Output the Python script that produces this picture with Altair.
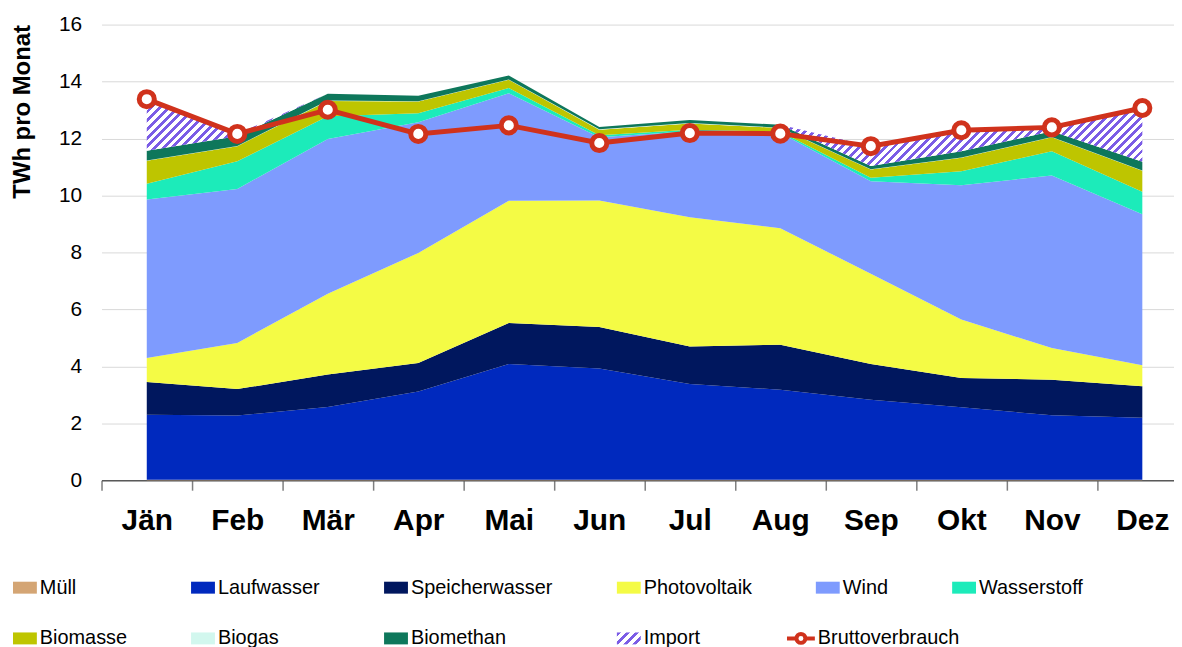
import altair as alt
import pandas as pd

months = ["Jän", "Feb", "Mär", "Apr", "Mai", "Jun", "Jul", "Aug", "Sep", "Okt", "Nov", "Dez"]
series = ["Müll", "Laufwasser", "Speicherwasser", "Photovoltaik", "Wind",
          "Wasserstoff", "Biomasse", "Biogas", "Biomethan"]
colors = ["#D4A574", "#0029BE", "#00175E", "#F4FB45", "#7E9BFE",
          "#1CEBBA", "#BEC500", "#D2F7EE", "#0E775B"]

muell = [0.02] * 12
laufwasser = [2.28, 2.25, 2.55, 3.10, 4.06, 3.90, 3.36, 3.16, 2.81, 2.54, 2.26, 2.17]
speicherwasser = [1.15, 0.93, 1.14, 1.00, 1.44, 1.46, 1.32, 1.58, 1.25, 1.03, 1.25, 1.11]
photovoltaik = [0.84, 1.62, 2.84, 3.86, 4.29, 4.44, 4.53, 4.09, 3.17, 2.05, 1.11, 0.74]
wind = [5.57, 5.41, 5.43, 4.59, 3.78, 2.22, 3.02, 3.34, 3.25, 4.72, 6.06, 5.30]
wasserstoff = [0.55, 0.97, 0.80, 0.32, 0.18, 0.07, 0.06, 0.05, 0.12, 0.49, 0.85, 0.79]
biomasse = [0.81, 0.53, 0.54, 0.41, 0.29, 0.20, 0.22, 0.13, 0.29, 0.47, 0.49, 0.74]
biogas = [0.01] * 12
biomethan = [0.34, 0.34, 0.24, 0.19, 0.14, 0.08, 0.11, 0.10, 0.11, 0.22, 0.20, 0.30]
import_ = [1.81, 0.08, 0.0, 0.0, 0.0, 0.0, 0.0, 0.0, 0.70, 0.74, 0.14, 1.89]
brutto = [13.38, 12.16, 13.01, 12.16, 12.46, 11.84, 12.19, 12.17, 11.73, 12.29, 12.39, 13.07]

values = [muell, laufwasser, speicherwasser, photovoltaik, wind,
          wasserstoff, biomasse, biogas, biomethan]

RED = "#D0321C"
PURPLE = "#7B5CE6"
FONT = "Liberation Sans"

W, H = 1078, 458
XMIN, XMAX = -0.5, 11.35
YMAX = 16

# ---- data frames
rows = []
for i, (s, vals) in enumerate(zip(series, values)):
    for m, v in enumerate(vals):
        rows.append({"m": m, "Monat": months[m], "Quelle": s, "i": i, "v": v})
df = pd.DataFrame(rows)

totals = [sum(v[m] for v in values) for m in range(12)]
df_imp = pd.DataFrame({"m": list(range(12)), "base": totals,
                       "top": [t + im for t, im in zip(totals, import_)]})
df_line = pd.DataFrame({"m": list(range(12)), "b": brutto,
                        "lbl": ["Bruttoverbrauch"] * 12})


# ---- hatch gradients (diagonal stripes "///")
def stripe_stops(n, frac=0.45):
    st = []
    for k in range(n):
        a, b, c = k / n, (k + frac) / n, (k + 1) / n
        st += [(a, PURPLE), (b, PURPLE), (b, "#FFFFFF"), (c, "#FFFFFF")]
    return st


def grad_vec(w, h):
    d = w * w + h * h
    return (w + h) * w / d, (w + h) * h / d


pxm = W / (XMAX - XMIN)
sc = H / YMAX
bw = 11 * pxm
bh = (max(df_imp["top"]) - min(df_imp["base"])) * sc
p, q = grad_vec(bw, bh)
n_big = int(round((bw + bh) / 8.7))
big_grad = alt.LinearGradient(
    gradient="linear", x1=0, y1=0, x2=p, y2=q,
    stops=[alt.GradientStop(offset=o, color=c) for o, c in stripe_stops(n_big)],
)

lp, lq = grad_vec(24, 12)
leg_stops = ", ".join("{offset: %.4f, color: '%s'}" % (o, c) for o, c in stripe_stops(4))
leg_grad_expr = "{gradient: 'linear', x1: 0, y1: 0, x2: %.4f, y2: %.4f, stops: [%s]}" % (lp, lq, leg_stops)

legend_domain = series + ["Import"]
legend_range = colors + [{"expr": leg_grad_expr}]

RECT = "M-1,-0.5H1V0.5H-1Z"
LINESYM = ("M-1,0H-0.32M0.32,0H1M0.32,0A0.32,0.32,0,1,1,-0.32,0"
           "A0.32,0.32,0,1,1,0.32,0Z")

label_expr = "[" + ",".join("'%s'" % mo for mo in months) + "][round(datum.value + 0.5)]"

x_enc = alt.X(
    "m:Q",
    scale=alt.Scale(domain=[XMIN, XMAX], nice=False, zero=False),
    axis=alt.Axis(
        values=[k - 0.5 for k in range(12)], labelExpr=label_expr,
        labelOffset=pxm / 2, labelFlush=False, labelOverlap=False, labelBound=False,
        tickSize=10, tickColor="#7F7F7F", tickWidth=1.5,
        domainColor="#595959", domainWidth=1.5,
        labelFontSize=30, labelFontWeight="bold", labelColor="black",
        labelPadding=16, grid=False, title=None,
    ),
)
y_scale = alt.Scale(domain=[0, YMAX], nice=False)

areas = alt.Chart(df).mark_area(opacity=1).encode(
    x=x_enc,
    y=alt.Y(
        "v:Q", stack="zero", scale=y_scale,
        axis=alt.Axis(
            values=list(range(0, 17, 2)), grid=True, gridColor="#D9D9D9",
            domain=False, ticks=False, labelFontSize=21, labelColor="black",
            labelPadding=20, title="TWh pro Monat", titleFontSize=24,
            titleFontWeight="bold", titleColor="black", titleAnchor="end",
            titlePadding=24,
        ),
    ),
    color=alt.Color(
        "Quelle:N",
        scale=alt.Scale(domain=legend_domain, range=legend_range),
        legend=alt.Legend(
            title=None, orient="none", legendX=-89, legendY=554,
            direction="horizontal", columns=6, symbolType=RECT, symbolSize=576,
            symbolStrokeWidth=0, symbolOpacity=1, labelFontSize=20,
            labelColor="black", labelOffset=3, columnPadding=64, rowPadding=29,
            labelLimit=400, padding=0,
        ),
    ),
    order=alt.Order("i:Q", sort="ascending"),
)

imp = alt.Chart(df_imp).mark_area(fill=big_grad, opacity=1).encode(
    x="m:Q", y=alt.Y("base:Q", scale=y_scale), y2="top:Q"
)

line = alt.Chart(df_line).mark_line(strokeWidth=5).encode(
    x="m:Q",
    y=alt.Y("b:Q", scale=y_scale),
    stroke=alt.Stroke(
        "lbl:N", scale=alt.Scale(domain=["Bruttoverbrauch"], range=[RED]),
        legend=alt.Legend(
            title=None, orient="none", legendX=687, legendY=601,
            symbolType=LINESYM, symbolSize=784, symbolStrokeWidth=4,
            symbolFillColor="white", labelFontSize=20, labelColor="black",
            labelOffset=1, padding=0,
        ),
    ),
)

points = alt.Chart(df_line).mark_point(
    shape="circle", filled=True, fill="white", stroke=RED, strokeWidth=5,
    size=230, opacity=1, strokeOpacity=1, fillOpacity=1,
).encode(x="m:Q", y=alt.Y("b:Q", scale=y_scale))

chart = (
    alt.layer(areas, imp, line, points)
    .properties(width=W, height=H,
                padding={"left": 2, "top": 4, "right": 0, "bottom": 0})
    .configure(font=FONT)
    .configure_view(stroke=None)
)

chart.save("out.html", embed_options={"renderer": "svg", "actions": False})
